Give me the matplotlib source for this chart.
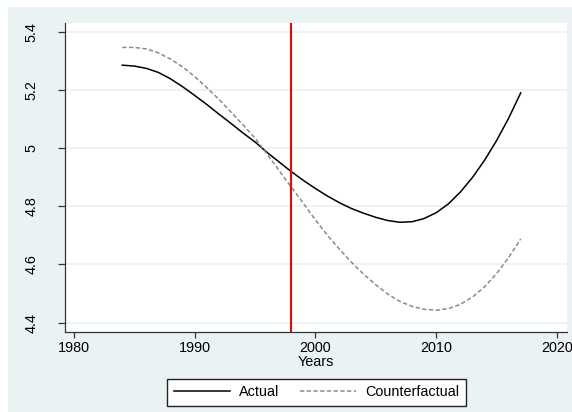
import matplotlib.pyplot as plt
from matplotlib.patches import Rectangle

plt.rcParams['font.family'] = ['Liberation Sans', 'DejaVu Sans']

years = list(range(1984, 2018))
actual = [5.285, 5.282, 5.274, 5.260, 5.238, 5.211, 5.181, 5.150, 5.117, 5.085,
          5.052, 5.021, 4.985, 4.952, 4.919, 4.889, 4.861, 4.835, 4.812, 4.792,
          4.776, 4.762, 4.751, 4.745, 4.747, 4.758, 4.778, 4.808, 4.849, 4.899,
          4.958, 5.026, 5.103, 5.190]
counterfactual = [5.346, 5.346, 5.341, 5.327, 5.306, 5.279, 5.246, 5.208, 5.168, 5.124,
                  5.080, 5.034, 4.979, 4.922, 4.866, 4.810, 4.753, 4.700, 4.652, 4.607,
                  4.566, 4.530, 4.498, 4.473, 4.456, 4.446, 4.443, 4.448, 4.463, 4.488,
                  4.523, 4.569, 4.624, 4.688]
policy_year = 1998
x_ticks = [1980, 1990, 2000, 2010, 2020]
y_ticks = [4.4, 4.6, 4.8, 5.0, 5.2, 5.4]
y_labels = ["4.4", "4.6", "4.8", "5", "5.2", "5.4"]

bg = "#eaf2f3"
fig = plt.figure(figsize=(5.72, 4.12), dpi=100, facecolor="white")
# light graph region behind the plot
fig.add_artist(Rectangle((8 / 572, 0), 1, 1 - 7 / 412, transform=fig.transFigure,
                         facecolor=bg, edgecolor="none", zorder=-5))

ax = fig.add_axes([65 / 572, 1 - 331.7 / 412, 502 / 572, 309 / 412])
ax.set_facecolor("white")

ax.plot(years, actual, color="black", lw=1.1, label="Actual")
ax.plot(years, counterfactual, color="#8a8a8a", lw=1.1, dashes=(2.8, 1.6),
        label="Counterfactual")
ax.axvline(policy_year, color="red", lw=1.5)

ax.set_xlim(1979.26, 2020.83)
ax.set_ylim(4.369, 5.431)
ax.set_xticks(x_ticks)
ax.set_yticks(y_ticks)
ax.set_yticklabels(y_labels, rotation=90, va="center")
ax.grid(axis="y", color=bg, lw=1.3)
ax.set_axisbelow(True)

for s in ["top", "right"]:
    ax.spines[s].set_visible(False)
for s in ["left", "bottom"]:
    ax.spines[s].set_color("#333333")
    ax.spines[s].set_linewidth(0.9)

ax.tick_params(axis="y", length=5, width=0.9, color="#333333", pad=14, labelsize=10.4)
ax.tick_params(axis="x", length=4.5, width=0.9, color="#333333", pad=2, labelsize=10.4)
ax.set_xlabel("Years", fontsize=10.4, labelpad=0)

#Legend
fig.legend(loc="center", bbox_to_anchor=(316.5 / 572, 1 - 392.5 / 412), ncol=2,
           fontsize=10.4, frameon=True, fancybox=False, edgecolor="#222222",
           framealpha=1, handlelength=3.9, handletextpad=0.65, columnspacing=1.4,
           borderpad=0.45)

plt.savefig("out.png", dpi=100, facecolor=fig.get_facecolor())
